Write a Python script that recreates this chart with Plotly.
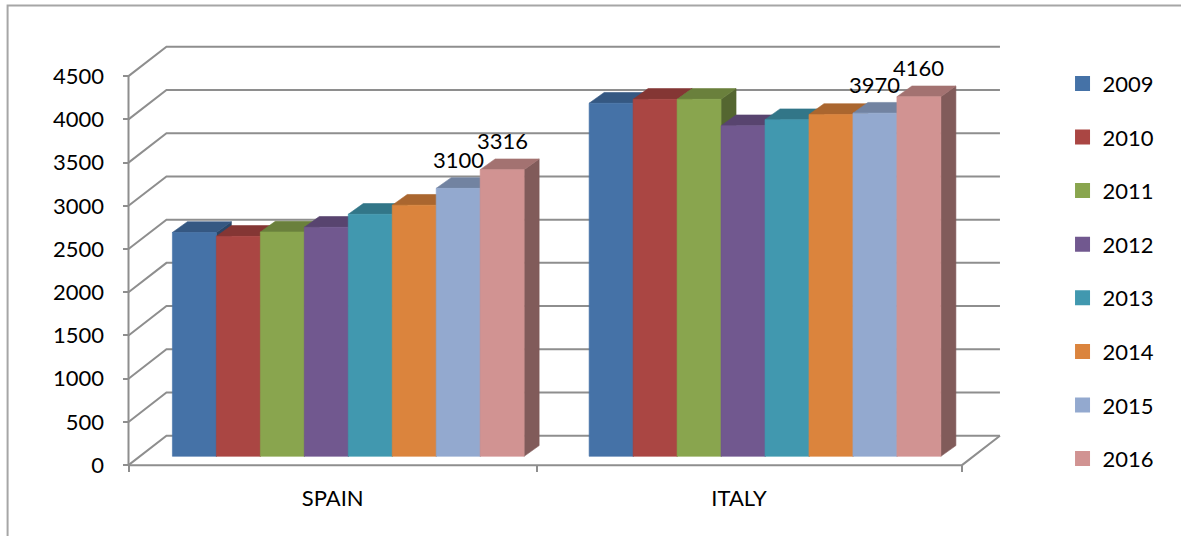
import plotly.graph_objects as go

# ---- data ----
categories = ["SPAIN", "ITALY"]
years = ["2009", "2010", "2011", "2012", "2013", "2014", "2015", "2016"]
spain = [2590, 2545, 2595, 2650, 2800, 2905, 3100, 3316]
italy = [4085, 4130, 4130, 3825, 3895, 3955, 3970, 4160]
labelled_years = ["2015", "2016"]
y_ticks = [0, 500, 1000, 1500, 2000, 2500, 3000, 3500, 4000, 4500]

colors = ["#4572A7", "#AA4643", "#89A54E", "#71588F",
          "#4198AF", "#DB843D", "#93A9CF", "#D19392"]

# ---- pseudo-3D geometry (oblique projection, in axis units) ----
WALL_DX, WALL_DY = 0.0911, 340      # depth of the floor / side wall
BAR_DX, BAR_DY = 0.036, 124          # depth of each bar
BAR_DEPTH_POS = 0.30                 # where the bars stand inside the floor
BAR_W = 0.1055
GRID = "#8e8e8e"
FONT = "Lato"


def shade(hex_color, k):
    h = hex_color.lstrip("#")
    r, g, b = (int(h[i:i + 2], 16) for i in (0, 2, 4))
    return "rgb({},{},{})".format(int(r * k), int(g * k), int(b * k))


fig = go.Figure()


def add_line(xs, ys):
    fig.add_trace(go.Scatter(x=xs, y=ys, mode="lines", showlegend=False,
                             hoverinfo="skip",
                             line=dict(color=GRID, width=2)))


# back wall gridlines and side-wall diagonals
for v in y_ticks:
    add_line([0, WALL_DX, 2 + WALL_DX], [v, v + WALL_DY, v + WALL_DY])
# floor: front edge and right edge
add_line([0, 2, 2 + WALL_DX], [0, 0, WALL_DY])
# value axis line
add_line([0, 0], [0, y_ticks[-1]])


def poly(xs, ys, color):
    fig.add_trace(go.Scatter(x=xs + [xs[0]], y=ys + [ys[0]], mode="lines",
                             fill="toself", fillcolor=color,
                             line=dict(color=color, width=0.6),
                             showlegend=False, hoverinfo="skip"))


base = BAR_DEPTH_POS * WALL_DY
annotations = []
for gi, values in enumerate([spain, italy]):
    center = gi + 0.5 + BAR_DEPTH_POS * WALL_DX
    for i, (yr, val) in enumerate(zip(years, values)):
        xl = center + (i - len(years) / 2) * BAR_W
        xr = xl + BAR_W
        top = base + val
        c = colors[i]
        # side face
        poly([xr, xr, xr + BAR_DX, xr + BAR_DX],
             [base, top, top + BAR_DY, base + BAR_DY], shade(c, 0.62))
        # top face
        poly([xl, xr, xr + BAR_DX, xl + BAR_DX],
             [top, top, top + BAR_DY, top + BAR_DY], shade(c, 0.78))
        # front face
        poly([xl, xr, xr, xl], [base, base, top, top], c)
        if yr in labelled_years:
            annotations.append(dict(x=(xl + xr) / 2, y=top, xref="x", yref="y",
                                    text=str(val), showarrow=False,
                                    yanchor="middle", yshift=29,
                                    font=dict(family=FONT, size=22,
                                              color="#000000")))

# legend entries
for yr, c in zip(years, colors):
    fig.add_trace(go.Scatter(x=[None], y=[None], mode="markers", name=yr,
                             legendgroup=yr,
                             marker=dict(symbol="square", size=15, color=c)))

X_MIN, X_MAX = -0.03, 2.12
Y_MIN, Y_MAX = -600, 5300

fig.update_layout(
    width=1181, height=536,
    margin=dict(l=115.5, r=168.9, t=7.45, b=19.2),
    paper_bgcolor="white", plot_bgcolor="white",
    font=dict(family=FONT, size=22, color="#000000"),
    annotations=annotations,
    legend=dict(x=1.0564, y=0.891, xanchor="left", yanchor="top",
                traceorder="grouped", tracegroupgap=22,
                font=dict(family=FONT, size=22, color="#000000"),
                bgcolor="rgba(0,0,0,0)"),
    xaxis=dict(range=[X_MIN, X_MAX], showgrid=False, zeroline=False,
               showline=False, anchor="free",
               position=(0 - Y_MIN) / (Y_MAX - Y_MIN),
               tickvals=[0, 0.98, 2], ticktext=["", "", ""],
               ticks="outside", ticklen=6, tickwidth=2, tickcolor=GRID),
    xaxis2=dict(range=[X_MIN, X_MAX], overlaying="x", side="bottom",
                anchor="free", position=(0 - Y_MIN) / (Y_MAX - Y_MIN),
                showgrid=False, zeroline=False, showline=False,
                tickvals=[0.49, 1.465], ticktext=categories, ticks="",
                ticklabelstandoff=18,
                tickfont=dict(family=FONT, size=22, color="#000000")),
    yaxis=dict(range=[Y_MIN, Y_MAX], showgrid=False, zeroline=False,
               showline=False, anchor="free",
               position=(0 - X_MIN) / (X_MAX - X_MIN),
               tickvals=y_ticks, ticks="outside", ticklen=6, tickwidth=2,
               tickcolor=GRID, ticklabelstandoff=14,
               tickfont=dict(family=FONT, size=22, color="#000000")),
    shapes=[dict(type="rect", xref="paper", yref="paper",
                 x0=-0.121, x1=1.2, y0=-0.1, y1=1.003,
                 line=dict(color="#a6a6a6", width=2), layer="below")],
)

# a dummy trace so the category-label axis is rendered
fig.add_trace(go.Scatter(x=[None], y=[None], xaxis="x2", showlegend=False,
                         hoverinfo="skip"))

fig.write_html("out.html")
